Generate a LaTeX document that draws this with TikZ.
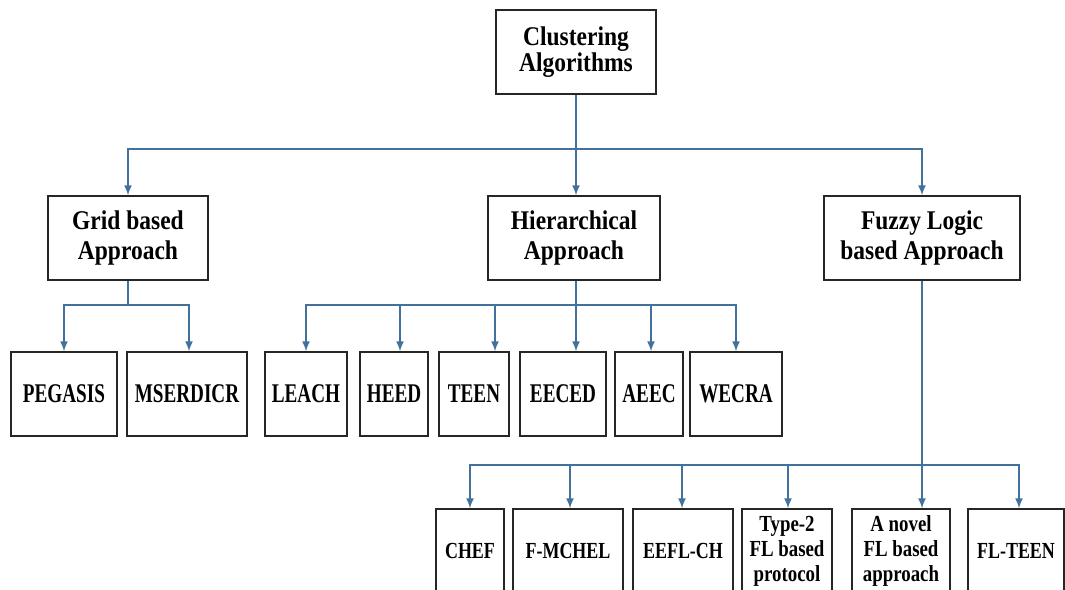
\documentclass[tikz,border=0pt]{standalone}
\usepackage{fontspec}
\usetikzlibrary{arrows.meta}
\newfontfamily\ftop[FakeStretch=0.87]{Liberation Serif}
\newfontfamily\frow[FakeStretch=0.71]{Liberation Serif}
\newfontfamily\fbcap[FakeStretch=0.78]{Liberation Serif}
\newfontfamily\fbmix[FakeStretch=0.82]{Liberation Serif}
\definecolor{conn}{HTML}{41719C}
\definecolor{boxc}{HTML}{262626}
\tikzset{
  bx/.style={draw=boxc,line width=1.5pt,fill=white,inner sep=0pt,align=center,minimum height=84pt},
  clusfont/.style={font=\ftop\bfseries\fontsize{27}{22}\selectfont},
  topfont/.style={font=\ftop\bfseries\fontsize{27}{30}\selectfont},
  rowfont/.style={font=\frow\bfseries\fontsize{27}{30}\selectfont},
  bcapfont/.style={font=\fbcap\bfseries\fontsize{23}{25}\selectfont},
  bmixfont/.style={font=\fbmix\bfseries\fontsize{23}{25}\selectfont},
  cn/.style={draw=conn,line width=1.5pt},
  ar/.style={cn,-{Latex[length=10pt,width=8pt]}},
}
\begin{document}
\begin{tikzpicture}[x=1pt,y=-1pt]
\path[use as bounding box,fill=white] (0,0) rectangle (1065,589);
\clip (0,0) rectangle (1065,589);

% level 0
\node[bx,clusfont,minimum width=160pt] (clus) at (576,52) {Clustering\\Algorithms};

% level 1
\node[bx,topfont,minimum width=160pt] (grid) at (128,238) {Grid based\\Approach};
\node[bx,topfont,minimum width=172pt] (hier) at (574,238) {Hierarchical\\Approach};
\node[bx,topfont,minimum width=196pt] (fuzzy) at (922,238) {Fuzzy Logic\\based Approach};

% level 2
\node[bx,rowfont,minimum width=106pt] (peg) at (64,394) {PEGASIS};
\node[bx,rowfont,minimum width=120pt] (mse) at (187,394) {MSERDICR};
\node[bx,rowfont,minimum width=82pt] (leach) at (306,394) {LEACH};
\node[bx,rowfont,minimum width=68pt] (heed) at (394,394) {HEED};
\node[bx,rowfont,minimum width=70pt] (teen) at (474,394) {TEEN};
\node[bx,rowfont,minimum width=86pt] (eeced) at (563,394) {EECED};
\node[bx,rowfont,minimum width=68pt] (aeec) at (649,394) {AEEC};
\node[bx,rowfont,minimum width=92pt] (wecra) at (736,394) {WECRA};

% level 3
\node[bx,bcapfont,minimum width=68pt] (chef) at (470,551) {CHEF};
\node[bx,bcapfont,minimum width=110pt] (fmc) at (568,551) {F-MCHEL};
\node[bx,bcapfont,minimum width=100pt] (eefl) at (683,551) {EEFL-CH};
\node[bx,bmixfont,minimum width=90pt] (type) at (787,551) {Type-2\\FL based\\protocol};
\node[bx,bmixfont,minimum width=98pt] (novel) at (901,551) {A novel\\FL based\\approach};
\node[bx,bcapfont,minimum width=96pt] (flteen) at (1016,551) {FL-TEEN};

% connectors level 0 -> 1
\draw[ar] (clus.south) -- ++(0,54) -| (grid.north);
\draw[ar] (clus.south) -- ++(0,54) -| (fuzzy.north);
\draw[ar] (clus.south) -- (clus.south |- hier.north);

% grid children
\draw[ar] (grid.south) -- ++(0,24) -| (peg.north);
\draw[ar] (grid.south) -- ++(0,24) -| ([xshift=2pt]mse.north);

% hierarchical children
\coordinate (hs) at ([xshift=2pt]hier.south);
\draw[ar] (hs) -- ++(0,24) -| (leach.north);
\draw[ar] (hs) -- ++(0,24) -| ([xshift=6pt]heed.north);
\draw[ar] (hs) -- ++(0,24) -| ([xshift=21pt]teen.north);
\draw[ar] (hs) -- (hs |- eeced.north);
\draw[ar] (hs) -- ++(0,24) -| ([xshift=2pt]aeec.north);
\draw[ar] (hs) -- ++(0,24) -| (wecra.north);

% fuzzy children
\draw[ar] (fuzzy.south) -- (fuzzy.south |- novel.north);
\draw[ar] (fuzzy.south) -- ++(0,184) -| (chef.north);
\draw[ar] (fuzzy.south) -- ++(0,184) -| ([xshift=2pt]fmc.north);
\draw[ar] (fuzzy.south) -- ++(0,184) -| ([xshift=-1pt]eefl.north);
\draw[ar] (fuzzy.south) -- ++(0,184) -| ([xshift=1pt]type.north);
\draw[ar] (fuzzy.south) -- ++(0,184) -| ([xshift=3pt]flteen.north);
\end{tikzpicture}
\end{document}
